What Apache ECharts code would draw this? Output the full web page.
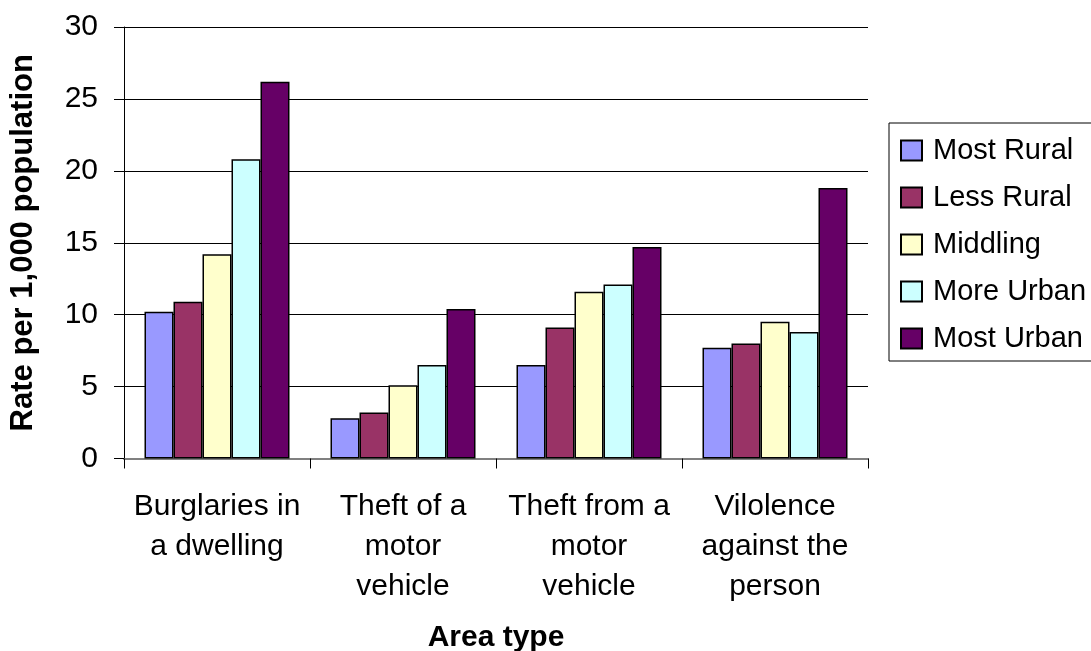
<!DOCTYPE html>
<html>
<head>
<meta charset="utf-8">
<script src="https://cdn.jsdelivr.net/npm/echarts@6/dist/echarts.min.js"></script>
<style>
  html, body { margin: 0; padding: 0; background: #ffffff; }
  #chart { width: 1091px; height: 651px; }
</style>
</head>
<body>
<div id="chart"></div>
<script>
// Crime rates per 1,000 population by area type
const categories = [
  'Burglaries in\na dwelling',
  'Theft of a\nmotor\nvehicle',
  'Theft from a\nmotor\nvehicle',
  'Vilolence\nagainst the\nperson'
];
const seriesNames = ['Most Rural', 'Less Rural', 'Middling', 'More Urban', 'Most Urban'];
const mostRural = [10.2, 2.8, 6.5, 7.7];
const lessRural = [10.9, 3.2, 9.1, 8.0];
const middling  = [14.2, 5.1, 11.6, 9.5];
const moreUrban = [20.8, 6.5, 12.1, 8.8];
const mostUrban = [26.2, 10.4, 14.7, 18.8];
const yMin = 0, yMax = 30, yStep = 5;

const seriesValues = [mostRural, lessRural, middling, moreUrban, mostUrban];
const seriesColors = ['#9999FF', '#993366', '#FFFFCC', '#CCFFFF', '#660066'];
const FONT = '"Liberation Sans", Arial, Helvetica, sans-serif';

const chart = echarts.init(document.getElementById('chart'), null, { renderer: 'canvas' });

chart.setOption({
  animation: false,
  backgroundColor: '#ffffff',
  textStyle: { fontFamily: FONT, color: '#000' },
  grid: { left: 124, right: 223, top: 27, bottom: 192.5, containLabel: false, outerBoundsMode: 'none' },
  legend: {
    data: seriesNames,
    orient: 'vertical',
    left: 889,
    top: 123,
    padding: [13, 40, 8, 11],
    itemWidth: 21,
    itemHeight: 20,
    itemGap: 18,
    icon: 'rect',
    selectedMode: false,
    borderColor: '#000',
    borderWidth: 1,
    textStyle: { fontFamily: FONT, fontSize: 29, color: '#000', lineHeight: 29, padding: [0, 0, 0, 6] }
  },
  xAxis: {
    type: 'category',
    data: categories,
    name: 'Area type',
    nameLocation: 'middle',
    nameGap: 164,
    nameTextStyle: { fontFamily: FONT, fontSize: 30, fontWeight: 'bold', color: '#000' },
    axisLine: { show: true, lineStyle: { color: '#808080', width: 2 } },
    axisTick: { show: true, length: 10, lineStyle: { color: '#000', width: 1 } },
    axisLabel: { interval: 0, fontFamily: FONT, fontSize: 30, lineHeight: 40, color: '#000', margin: 28 },
    splitLine: { show: false }
  },
  yAxis: {
    type: 'value',
    min: yMin,
    max: yMax,
    interval: yStep,
    name: 'Rate per 1,000 population',
    nameLocation: 'middle',
    nameGap: 85,
    nameTextStyle: { fontFamily: FONT, fontSize: 31, fontWeight: 'bold', color: '#000' },
    axisLine: { show: true, lineStyle: { color: '#000', width: 1 } },
    axisTick: { show: true, length: 10, lineStyle: { color: '#000', width: 1 } },
    axisLabel: { fontFamily: FONT, fontSize: 30, color: '#000', margin: 26 },
    splitLine: { show: true, lineStyle: { color: '#000', width: 1 } }
  },
  series: seriesNames.map((name, i) => ({
    name: name,
    type: 'bar',
    data: seriesValues[i],
    barWidth: 29,
    barGap: '0%',
    itemStyle: { color: seriesColors[i], borderColor: '#000', borderWidth: 1.5 }
  }))
});
</script>
</body>
</html>
